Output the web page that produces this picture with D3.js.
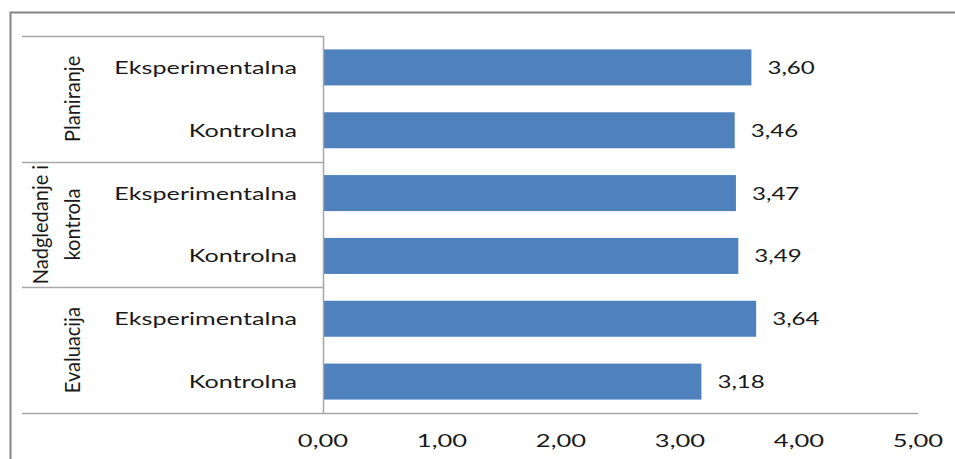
<!DOCTYPE html>
<html>
<head>
<meta charset="utf-8">
<script src="https://cdn.jsdelivr.net/npm/d3@7"></script>
<style>
  html, body { margin: 0; padding: 0; background: #fff; }
  svg { display: block; }
  text { font-family: Lato, "Open Sans", sans-serif; fill: #1a1a1a; }
</style>
</head>
<body>
<svg id="chart"></svg>
<script>
// podaci
var groups = ["Planiranje", "Nadgledanje i kontrola", "Evaluacija"];
var groupLines = [["Planiranje"], ["Nadgledanje i", "kontrola"], ["Evaluacija"]];
var rowLabels = ["Eksperimentalna", "Kontrolna", "Eksperimentalna", "Kontrolna", "Eksperimentalna", "Kontrolna"];
var rowGroup = [0, 0, 1, 1, 2, 2];
var values = [3.60, 3.46, 3.47, 3.49, 3.64, 3.18];
var xTicks = [0, 1, 2, 3, 4, 5];

var width = 955, height = 459;
var plotLeft = 323, plotRight = 918, plotTop = 36, plotBottom = 413;
var tableLeft = 22;

var locale = d3.formatLocale({decimal: ",", thousands: ".", grouping: [3], currency: ["", ""]});
var fmt = locale.format(".2f");

var svg = d3.select("#chart")
    .attr("width", width)
    .attr("height", height);

svg.append("rect")
    .attr("width", width)
    .attr("height", height)
    .attr("fill", "#fff");

// okvir
svg.append("path")
    .attr("d", "M10.5," + height + "V12.5H" + width)
    .attr("fill", "none")
    .attr("stroke", "#858585")
    .attr("stroke-width", 2);

var x = d3.scaleLinear().domain([0, 5]).range([plotLeft, plotRight]);
var ids = d3.range(values.length);
var y = d3.scaleBand()
    .domain(ids)
    .range([plotTop, plotBottom])
    .paddingInner(0.427)
    .paddingOuter(0.2135);

var step = y.step();

// linije tablice kategorija
var gridColor = "#a6a6a6";
svg.append("line")
    .attr("x1", tableLeft).attr("x2", plotLeft)
    .attr("y1", plotTop + 0.5).attr("y2", plotTop + 0.5)
    .attr("stroke", gridColor).attr("stroke-width", 1.5);

[2, 4].forEach(function(i) {
    var yy = Math.round(y(i) - y.paddingInner() * step / 2) + 0.5;
    svg.append("line")
        .attr("x1", tableLeft).attr("x2", plotLeft)
        .attr("y1", yy).attr("y2", yy)
        .attr("stroke", gridColor).attr("stroke-width", 1.5);
});

// stupci
svg.append("g")
    .selectAll("rect")
    .data(values)
    .enter()
    .append("rect")
    .attr("x", x(0))
    .attr("y", function(d, i) { return y(i); })
    .attr("width", function(d) { return x(d) - x(0); })
    .attr("height", y.bandwidth())
    .attr("fill", "#4f81bd");

// osi
svg.append("line")
    .attr("x1", plotLeft + 0.5).attr("x2", plotLeft + 0.5)
    .attr("y1", plotTop).attr("y2", plotBottom)
    .attr("stroke", gridColor).attr("stroke-width", 1.5);

svg.append("line")
    .attr("x1", tableLeft).attr("x2", plotRight)
    .attr("y1", plotBottom + 0.5).attr("y2", plotBottom + 0.5)
    .attr("stroke", gridColor).attr("stroke-width", 1.5);

// slika je razvucena vodoravno
function place(tx, ty, sx) {
    return "translate(" + tx + "," + ty + ") scale(" + sx + ",1)";
}

// vrijednosti
svg.append("g")
    .selectAll("text")
    .data(values)
    .enter()
    .append("text")
    .attr("transform", function(d, i) { return place(x(d) + 16, y(i) + y.bandwidth() / 2 + 6.5, 1.34); })
    .attr("font-size", 18)
    .text(function(d) { return fmt(d); });

// oznake redova
svg.append("g")
    .selectAll("text")
    .data(rowLabels)
    .enter()
    .append("text")
    .attr("transform", function(d, i) { return place(297, y(i) + y.bandwidth() / 2 + 6.5, 1.4); })
    .attr("text-anchor", "end")
    .attr("font-size", 18)
    .text(function(d) { return d; });

// oznake grupa (okrenute)
groupLines.forEach(function(lines, g) {
    var idx = rowGroup.indexOf(g);
    var cy = (y(idx) + y(idx + 1) + y.bandwidth()) / 2;
    var base = lines.length == 1 ? [80] : [48, 80];
    lines.forEach(function(t, k) {
        svg.append("text")
            .attr("transform", "translate(" + base[k] + "," + cy + ") scale(1.05,1) rotate(-90)")
            .attr("text-anchor", "middle")
            .attr("font-size", 20)
            .text(t);
    });
});

// oznake osi x
svg.append("g")
    .selectAll("text")
    .data(xTicks)
    .enter()
    .append("text")
    .attr("transform", function(d) { return place(x(d), 447, 1.42); })
    .attr("text-anchor", "middle")
    .attr("font-size", 18)
    .text(function(d) { return fmt(d); });
</script>
</body>
</html>
